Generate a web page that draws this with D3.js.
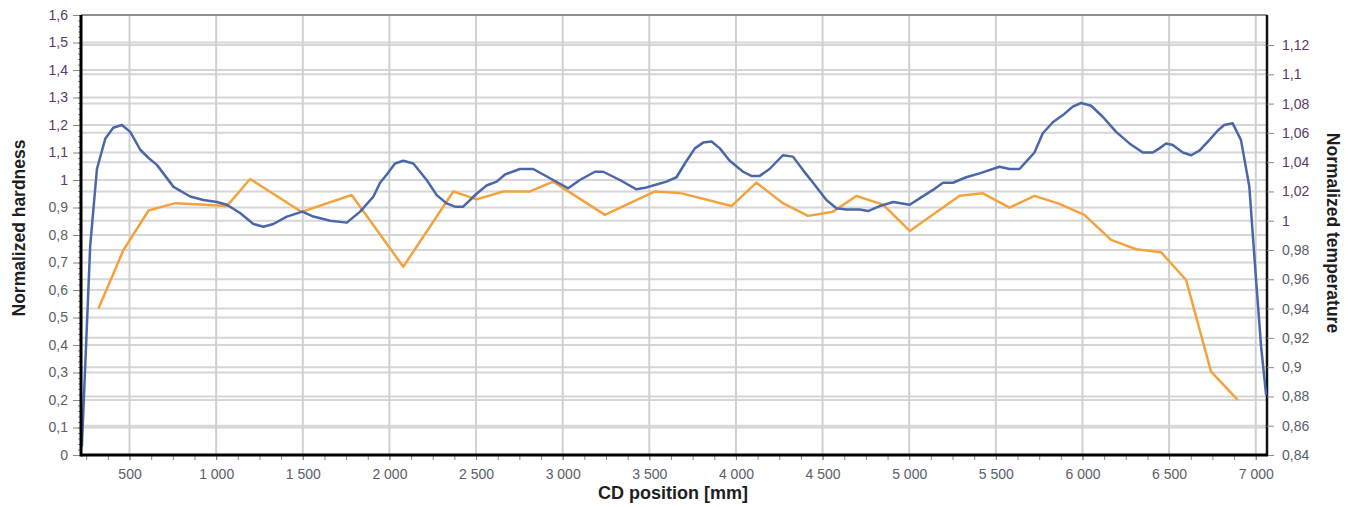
<!DOCTYPE html>
<html>
<head>
<meta charset="utf-8">
<script src="https://cdn.jsdelivr.net/npm/d3@7"></script>
<style>
  body { margin: 0; background: #fff; }
  svg { display: block; font-family: "Liberation Sans", Arial, sans-serif; }
</style>
</head>
<body>
<svg id="chart" width="1352" height="507"></svg>
<script>
// CD position [mm] + normalized hardness (left axis)
let hardX = [225, 273, 312, 360, 406, 456, 504, 562, 610, 658, 754, 850, 927, 1004, 1062, 1138, 1215, 1273, 1330, 1408,
  1498, 1561, 1658, 1754, 1831, 1908, 1946, 1985, 2032, 2080, 2138, 2215, 2273, 2330, 2378, 2426, 2503, 2561, 2619, 2667,
  2753, 2830, 2945, 3032, 3099, 3186, 3234, 3330, 3426, 3484, 3522, 3599, 3657, 3705, 3763, 3811, 3859, 3907, 3964, 4041,
  4089, 4137, 4194, 4271, 4329, 4387, 4445, 4522, 4580, 4637, 4714, 4762, 4830, 4907, 5003, 5060, 5137, 5195, 5252, 5329,
  5406, 5521, 5579, 5637, 5675, 5723, 5771, 5829, 5887, 5944, 5992, 6050, 6117, 6194, 6271, 6348, 6406, 6444, 6483, 6521,
  6579, 6627, 6675, 6732, 6781, 6818, 6867, 6915, 6963, 7002, 7031, 7060]
let hardY = [0.03, 0.76, 1.04, 1.15, 1.19, 1.2, 1.175, 1.11, 1.08, 1.055, 0.975, 0.94, 0.927, 0.92, 0.91, 0.88, 0.84, 0.83, 0.84, 0.867,
  0.885, 0.867, 0.852, 0.845, 0.885, 0.94, 0.99, 1.02, 1.06, 1.07, 1.06, 1.0, 0.945, 0.915, 0.903, 0.903, 0.95, 0.98, 0.994, 1.02,
  1.04, 1.04, 1.0, 0.97, 1.0, 1.03, 1.03, 1.0, 0.966, 0.973, 0.98, 0.994, 1.01, 1.06, 1.115, 1.136, 1.14, 1.115, 1.07, 1.03,
  1.015, 1.015, 1.04, 1.09, 1.085, 1.036, 0.99, 0.927, 0.897, 0.893, 0.893, 0.887, 0.905, 0.92, 0.91, 0.933, 0.964, 0.99, 0.99, 1.01,
  1.024, 1.048, 1.04, 1.04, 1.067, 1.10, 1.17, 1.21, 1.236, 1.267, 1.28, 1.27, 1.23, 1.175, 1.133, 1.10, 1.10, 1.115, 1.133, 1.127,
  1.10, 1.09, 1.107, 1.145, 1.18, 1.2, 1.206, 1.145, 0.976, 0.636, 0.394, 0.218]

// CD position [mm] + normalized temperature (right axis)
let tempX = [321, 465, 610, 764, 908, 1062, 1196, 1494, 1782, 2080, 2369, 2503, 2657, 2811, 2945, 3244, 3532, 3676, 3974,
  4118, 4271, 4416, 4560, 4695, 4849, 5003, 5291, 5425, 5579, 5723, 5867, 6011, 6165, 6310, 6454, 6598, 6742, 6896]
let tempY = [0.940, 0.980, 1.007, 1.012, 1.011, 1.010, 1.0285, 1.006, 1.0176, 0.9686, 1.020, 1.0146, 1.020, 1.020, 1.0267, 1.004, 1.020, 1.019, 1.010,
  1.026, 1.012, 1.0033, 1.0062, 1.0169, 1.011, 0.993, 1.017, 1.0187, 1.009, 1.017, 1.0115, 1.004, 0.9869, 0.9805, 0.9784, 0.9595, 0.8969, 0.8776]

let xTicks = [500, 1000, 1500, 2000, 2500, 3000, 3500, 4000, 4500, 5000, 5500, 6000, 6500, 7000]
let leftTicks = [0, 0.1, 0.2, 0.3, 0.4, 0.5, 0.6, 0.7, 0.8, 0.9, 1, 1.1, 1.2, 1.3, 1.4, 1.5, 1.6]
let rightTicks = [0.84, 0.86, 0.88, 0.9, 0.92, 0.94, 0.96, 0.98, 1, 1.02, 1.04, 1.06, 1.08, 1.1, 1.12]

let locale = d3.formatLocale({decimal: ",", thousands: " ", grouping: [3], currency: ["", ""]})
let fmtX = locale.format(",d")
let fmtY = v => locale.format("~g")(+v.toFixed(2))

let pl = 81, pr = 1267, pt = 15, pb = 455

let svg = d3.select("#chart")

let x = d3.scaleLinear().domain([220, 7065]).range([pl, pr])
let yL = d3.scaleLinear().domain([0, 1.6]).range([pb, pt])
let yR = d3.scaleLinear().domain([0.84, 1.1405]).range([pb, pt])

let grid = svg.append("g")

// horizontal grid from both axes
grid.selectAll(".gl").data(leftTicks.slice(1)).enter().append("line")
  .attr("x1", pl).attr("x2", pr)
  .attr("y1", d => yL(d)).attr("y2", d => yL(d))
  .attr("stroke", "#d6d6d6").attr("stroke-width", 2)
grid.selectAll(".gr").data(rightTicks.slice(1)).enter().append("line")
  .attr("x1", pl).attr("x2", pr)
  .attr("y1", d => yR(d)).attr("y2", d => yR(d))
  .attr("stroke", "#d6d6d6").attr("stroke-width", 2)
grid.selectAll(".gv").data(xTicks).enter().append("line")
  .attr("x1", d => x(d)).attr("x2", d => x(d))
  .attr("y1", pt).attr("y2", pb)
  .attr("stroke", "#d0d0d0").attr("stroke-width", 2)

// frame
svg.append("line").attr("x1", pl).attr("x2", pr).attr("y1", pt).attr("y2", pt)
  .attr("stroke", "#777").attr("stroke-width", 1.5)
svg.append("line").attr("x1", pr).attr("x2", pr).attr("y1", pt).attr("y2", pb)
  .attr("stroke", "#111").attr("stroke-width", 2.5)

// lines
let hard = hardX.map((d, i) => [d, hardY[i]])
let temp = tempX.map((d, i) => [d, tempY[i]])

svg.append("path")
  .datum(temp)
  .attr("fill", "none")
  .attr("stroke", "#f4a23e")
  .attr("stroke-width", 2.5)
  .attr("stroke-linejoin", "round")
  .attr("d", d3.line().x(d => x(d[0])).y(d => yR(d[1])))

svg.append("path")
  .datum(hard)
  .attr("fill", "none")
  .attr("stroke", "#4a67a8")
  .attr("stroke-width", 2.5)
  .attr("stroke-linejoin", "round")
  .attr("d", d3.line().x(d => x(d[0])).y(d => yL(d[1])))

// axes
let labelColor = d => d >= 1 ? "#5a3a68" : "#5b5e68"

let axL = svg.append("g").attr("transform", "translate(" + pl + ",0)")
  .call(d3.axisLeft(yL).tickValues(d3.range(0, 81).map(i => i * 0.02)).tickSize(3).tickFormat(""))
axL.selectAll("line").attr("stroke", "#888")
axL.select(".domain").remove()
let axL2 = svg.append("g").attr("transform", "translate(" + pl + ",0)")
  .call(d3.axisLeft(yL).tickValues(leftTicks).tickSize(8).tickPadding(5).tickFormat(fmtY))
axL2.select(".domain").remove()
axL2.selectAll("line").attr("stroke", "#888")
axL2.selectAll("text").attr("font-size", 14).attr("fill", labelColor)

let axR = svg.append("g").attr("transform", "translate(" + pr + ",0)")
  .call(d3.axisRight(yR).tickValues(rightTicks).tickSize(7).tickPadding(8).tickFormat(fmtY))
axR.select(".domain").remove()
axR.selectAll("line").attr("stroke", "#888")
axR.selectAll("text").attr("font-size", 14).attr("fill", labelColor)

let axB = svg.append("g").attr("transform", "translate(0," + pb + ")")
  .call(d3.axisBottom(x).tickValues(d3.range(250, 7001, 125)).tickSize(5).tickFormat(""))
axB.select(".domain").remove()
axB.selectAll("line").attr("stroke", "#888")
let axB2 = svg.append("g").attr("transform", "translate(0," + pb + ")")
  .call(d3.axisBottom(x).tickValues(xTicks).tickSize(5).tickPadding(9).tickFormat(fmtX))
axB2.select(".domain").remove()
axB2.selectAll("line").attr("stroke", "#888")
axB2.selectAll("text").attr("font-size", 14).attr("fill", "#5b5e68")

// main axis lines
svg.append("line").attr("x1", pl).attr("x2", pl).attr("y1", pt).attr("y2", pb + 1.5)
  .attr("stroke", "#000").attr("stroke-width", 3)
svg.append("line").attr("x1", pl).attr("x2", pr + 1).attr("y1", pb).attr("y2", pb)
  .attr("stroke", "#000").attr("stroke-width", 3)

// titles
svg.append("text")
  .attr("transform", "translate(25," + 228 + ") rotate(-90)")
  .attr("text-anchor", "middle")
  .attr("font-size", 17.5).attr("font-weight", "bold").attr("fill", "#1e1e1e")
  .text("Normalized hardness")
svg.append("text")
  .attr("transform", "translate(1327," + 233 + ") rotate(90)")
  .attr("text-anchor", "middle")
  .attr("font-size", 17.5).attr("font-weight", "bold").attr("fill", "#1e1e1e")
  .text("Normalized temperature")
svg.append("text")
  .attr("x", 673).attr("y", 499)
  .attr("text-anchor", "middle")
  .attr("font-size", 18).attr("font-weight", "bold").attr("fill", "#1e1e1e")
  .text("CD position [mm]")
</script>
</body>
</html>
